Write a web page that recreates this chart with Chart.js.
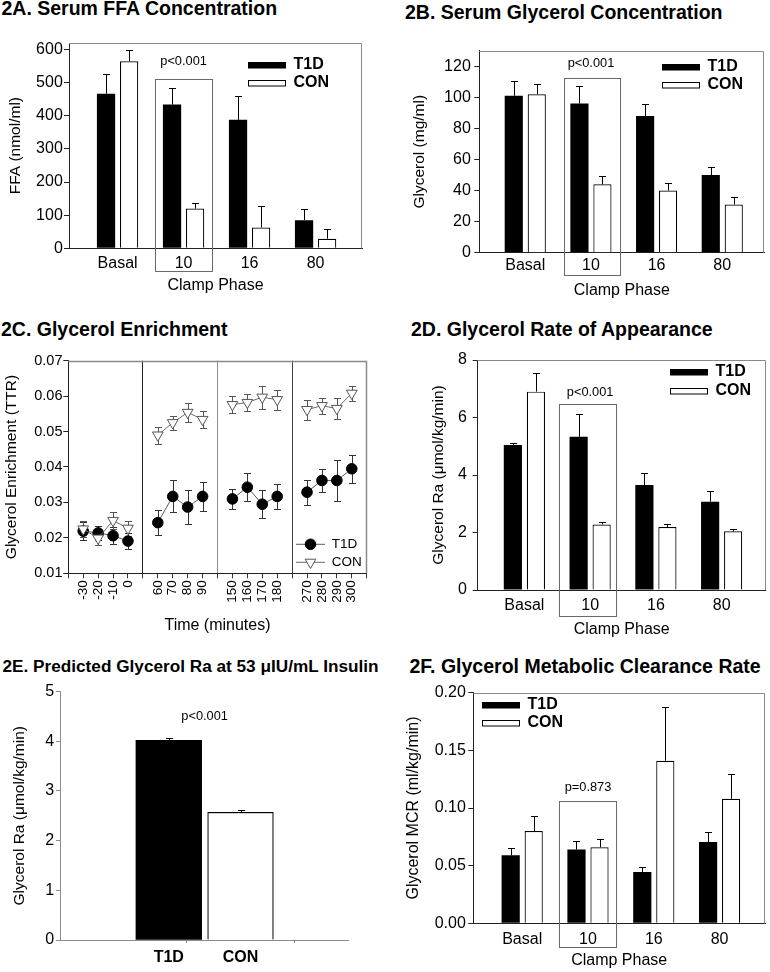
<!DOCTYPE html>
<html>
<head>
<meta charset="utf-8">
<script src="https://cdn.jsdelivr.net/npm/chart.js@4.4.0/dist/chart.umd.min.js"></script>
<style>
body { margin: 0; background: #fff; width: 770px; height: 972px; position: relative; overflow: hidden;
       font-family: "Liberation Sans", Arial, Helvetica, sans-serif; }
.panel { position: absolute; }
.ttl { position: absolute; font-weight: bold; font-size: 19.5px; line-height: 1; white-space: nowrap; color: #000; }
</style>
</head>
<body>
<div class="ttl" style="left:1.5px;top:-1.5px">2A. Serum FFA Concentration</div>
<div class="ttl" style="left:405px;top:2.5px">2B. Serum Glycerol Concentration</div>
<div class="ttl" style="left:1px;top:319.5px">2C. Glycerol Enrichment</div>
<div class="ttl" style="left:411px;top:320px">2D. Glycerol Rate of Appearance</div>
<div class="ttl" style="left:2.5px;top:658px;font-size:17.2px">2E. Predicted Glycerol Ra at 53 μIU/mL Insulin</div>
<div class="ttl" style="left:409.5px;top:657px">2F. Glycerol Metabolic Clearance Rate</div>

<div class="panel" id="pA"><canvas></canvas></div>
<div class="panel" id="pB"><canvas></canvas></div>
<div class="panel" id="pC"><canvas></canvas></div>
<div class="panel" id="pD"><canvas></canvas></div>
<div class="panel" id="pE"><canvas></canvas></div>
<div class="panel" id="pF"><canvas></canvas></div>

<script>
// ---- data ----
const phases = ["Basal", "10", "16", "80"];

const ffaT1D = [467, 434, 388, 85];
const ffaT1DErr = [60, 51, 72, 35];
const ffaCON = [565, 120, 63, 29];
const ffaCONErr = [35, 17, 65, 28];

const glyT1D = [101, 96, 88, 50];
const glyT1DErr = [9.5, 11, 7.6, 5.2];
const glyCON = [102, 44, 40, 31];
const glyCONErr = [6.5, 5.2, 5, 5];

const timeGroups = [[-30, -20, -10, 0], [60, 70, 80, 90], [150, 160, 170, 180], [270, 280, 290, 300]];
const enrT1D = [0.0219, 0.0214, 0.0206, 0.0191, 0.0243, 0.0317, 0.0287, 0.0317,
                0.0310, 0.0343, 0.0295, 0.0317, 0.0329, 0.0362, 0.0362, 0.0395];
const enrT1DErr = [0.0025, 0.0020, 0.0024, 0.0023, 0.0036, 0.0045, 0.0048, 0.0042,
                   0.0028, 0.0039, 0.0039, 0.0035, 0.0035, 0.0033, 0.0058, 0.0039];
const enrCON = [0.0225, 0.0199, 0.0249, 0.0227, 0.0490, 0.0525, 0.0554, 0.0534,
                0.0576, 0.0582, 0.0597, 0.0590, 0.0562, 0.0573, 0.0565, 0.0608];
const enrCONErr = [0.0022, 0.0020, 0.0023, 0.0022, 0.0024, 0.0020, 0.0026, 0.0024,
                   0.0024, 0.0025, 0.0033, 0.0028, 0.0028, 0.0023, 0.0030, 0.0022];

const raT1D = [5.04, 5.33, 3.65, 3.07];
const raT1DErr = [0.06, 0.78, 0.41, 0.39];
const raCON = [6.90, 2.28, 2.19, 2.04];
const raCONErr = [0.66, 0.09, 0.12, 0.09];

const groups = ["T1D", "CON"];
const predRa = [4.02, 2.57];
const predRaErr = [0.04, 0.05];

const mcrT1D = [0.059, 0.064, 0.0445, 0.0705];
const mcrT1DErr = [0.0066, 0.0078, 0.0046, 0.0084];
const mcrCON = [0.080, 0.066, 0.141, 0.108];
const mcrCONErr = [0.013, 0.0075, 0.0465, 0.0214];

// ---- drawing helpers ----
const FONT = '"Liberation Sans", Arial, Helvetica, sans-serif';
Chart.defaults.font.family = FONT;
Chart.defaults.color = '#000';
Chart.defaults.animation = false;
Chart.defaults.plugins.legend.display = false;
Chart.defaults.plugins.tooltip.enabled = false;

function drawErrors(chart, o) {
  const ctx = chart.ctx, ys = chart.scales.y, cap = o.cap || 3.5;
  chart.data.datasets.forEach((ds, i) => {
    if (!ds.errors) return;
    const meta = chart.getDatasetMeta(i);
    ctx.save();
    ctx.strokeStyle = ds.errorColor || '#000';
    ctx.lineWidth = 1;
    meta.data.forEach((el, j) => {
      const raw = ds.data[j];
      const v = raw == null ? null : (typeof raw === 'object' ? raw.y : raw);
      const e = ds.errors[j];
      if (v == null || e == null) return;
      const x = Math.round(el.x) + 0.5;
      const yTop = Math.round(ys.getPixelForValue(v + e)) + 0.5;
      const yBot = o.twoSided ? Math.round(ys.getPixelForValue(v - e)) + 0.5 : el.y;
      ctx.beginPath();
      ctx.moveTo(x, yBot); ctx.lineTo(x, yTop);
      ctx.moveTo(x - cap, yTop); ctx.lineTo(x + cap, yTop);
      if (o.twoSided) { ctx.moveTo(x - cap, yBot); ctx.lineTo(x + cap, yBot); }
      ctx.stroke();
    });
    ctx.restore();
  });
}

const decor = {
  id: 'decor',
  beforeDatasetsDraw(chart, args, o) {
    if (o.errUnder) drawErrors(chart, o);
  },
  afterDatasetsDraw(chart, args, o) {
    const ctx = chart.ctx, a = chart.chartArea, xs = chart.scales.x, ys = chart.scales.y;
    if (!o.errUnder) drawErrors(chart, o);
    ctx.save();
    if (o.frame) {
      ctx.strokeStyle = o.frame;
      ctx.lineWidth = o.frameWidth || 1;
      ctx.beginPath();
      ctx.moveTo(a.left, Math.round(a.top) + 0.5);
      ctx.lineTo(Math.round(a.right) - 0.5, Math.round(a.top) + 0.5);
      ctx.lineTo(Math.round(a.right) - 0.5, a.bottom);
      ctx.stroke();
    }
    if (o.box) {
      const x0 = Math.round(xs.getPixelForValue(o.box.from)) + 0.5;
      const x1 = Math.round(xs.getPixelForValue(o.box.to)) + 0.5;
      const y0 = Math.round(ys.getPixelForValue(o.box.top)) + 0.5;
      const y1 = Math.round(a.bottom + o.box.below) + 0.5;
      ctx.strokeStyle = '#6a6a6a';
      ctx.lineWidth = 1;
      ctx.strokeRect(x0, y0, x1 - x0, y1 - y0);
    }
    if (o.note) {
      ctx.fillStyle = '#000';
      ctx.font = '12.8px ' + FONT;
      ctx.textAlign = 'center';
      ctx.textBaseline = 'middle';
      ctx.fillText(o.note.text, xs.getPixelForValue(o.note.x), ys.getPixelForValue(o.note.y));
    }
    if (o.legend) {
      const L = o.legend;
      chart.data.datasets.forEach((ds, i) => {
        const x = Math.round(a.left + L.dx) + 0.5, y = Math.round(a.top + L.dy + i * 18.4) + 0.5;
        ctx.fillStyle = ds.backgroundColor;
        ctx.fillRect(x, y, 37, 5.5);
        ctx.strokeStyle = '#000';
        ctx.lineWidth = 1;
        ctx.strokeRect(x, y, 37, 5.5);
        ctx.fillStyle = '#000';
        ctx.font = 'bold 16px ' + FONT;
        ctx.textAlign = 'left';
        ctx.textBaseline = 'middle';
        ctx.fillText(ds.label, x + 45, y + 2);
      });
    }
    if (o.lineLegend) {
      const L = o.lineLegend;
      chart.data.datasets.forEach((ds, i) => {
        const y = a.bottom + L.ys[i];
        ctx.strokeStyle = ds.borderColor;
        ctx.lineWidth = 1;
        ctx.beginPath();
        ctx.moveTo(a.right + L.x0, y); ctx.lineTo(a.right + L.x1, y);
        ctx.stroke();
        ctx.fillStyle = ds.pointBackgroundColor;
        ctx.strokeStyle = ds.pointBorderColor;
        Chart.helpers.drawPoint(ctx, { pointStyle: ds.pointStyle, radius: ds.pointRadius,
          rotation: ds.pointRotation || 0, borderWidth: ds.pointBorderWidth || 1 },
          a.right + (L.x0 + L.x1) / 2, y);
        ctx.fillStyle = '#000';
        ctx.font = '13.5px ' + FONT;
        ctx.textAlign = 'left';
        ctx.textBaseline = 'middle';
        ctx.fillText(ds.label, a.right + L.tx, y);
      });
    }
    ctx.restore();
  }
};
Chart.register(decor);

function yAxis(p, yw) {
  return {
    type: 'linear', min: p.min, max: p.max,
    ticks: { stepSize: p.step, includeBounds: false, padding: p.tickPad, font: { size: p.tickSize || 16 },
             color: '#000', callback: p.fmt || (v => v) },
    grid: { drawOnChartArea: false, tickLength: p.tickLen || 5, tickColor: p.axisColor || '#222', tickWidth: 1 },
    border: { color: p.axisColor || '#222', width: 1 },
    title: { display: true, text: p.title, font: { size: p.titleSize || 15.5 }, padding: 0 },
    afterFit(s) { s.width = yw; }
  };
}

function mount(id, cell, plot, yTitleX, yTitleSize, xh, build) {
  const el = document.getElementById(id);
  Object.assign(el.style, { left: cell.x + 'px', top: cell.y + 'px', width: cell.w + 'px', height: cell.h + 'px' });
  const yw = plot.l - yTitleX + yTitleSize * 0.6;
  const padding = { left: plot.l - cell.x - yw, top: plot.t - cell.y,
                    right: cell.x + cell.w - plot.r, bottom: cell.y + cell.h - plot.b - xh };
  const cfg = build(yw, xh);
  cfg.options.layout = { padding };
  cfg.options.responsive = true;
  cfg.options.maintainAspectRatio = false;
  return new Chart(el.querySelector('canvas'), cfg);
}

function barPanel(id, L, d) {
  const xh = L.xTitleY - L.plot.b + 9.6;
  const ts = d.y.titleSize || 15.5;
  mount(id, L.cell, L.plot, L.yTitleX, ts, xh, yw => ({
    type: 'bar',
    data: { datasets: [
      { label: 'T1D', data: d.t1d.map((v, i) => ({ x: i, y: v })), errors: d.t1dErr,
        backgroundColor: '#000', borderColor: '#000', borderWidth: 0,
        categoryPercentage: 0.70, barPercentage: 0.79 },
      { label: 'CON', data: d.con.map((v, i) => ({ x: i, y: v })), errors: d.conErr,
        backgroundColor: '#fff', borderColor: '#000', borderWidth: 1.2,
        categoryPercentage: 0.70, barPercentage: 0.79 }
    ] },
    options: {
      scales: {
        x: { type: 'linear', min: L.xMin, max: L.xMax, offset: false,
             afterBuildTicks(s) { s.ticks = phases.map((_, i) => ({ value: i })); },
             ticks: { callback: v => phases[v], padding: L.xTickPad, font: { size: 16 }, color: '#000',
                      autoSkip: false, maxRotation: 0 },
             grid: { display: false, drawTicks: false },
             border: { color: '#222', width: 1 },
             title: { display: true, text: 'Clamp Phase', font: { size: 16 }, padding: 0 },
             afterFit(s) { s.height = xh; } },
        y: yAxis(d.y, yw)
      },
      plugins: { decor: { frame: '#8a8a8a', cap: 3.5, box: L.box, note: L.note, legend: L.legend } }
    }
  }));
}

// ---- 2A ----
barPanel('pA', {
  cell: { x: 0, y: 22, w: 385, h: 290 }, plot: { l: 69, t: 43, r: 362, b: 248.3 },
  yTitleX: 16, xTitleY: 286, xMin: -0.736, xMax: 3.703, xTickPad: 5.6,
  box: { from: 0.57, to: 1.43, top: 510, below: 23 },
  note: { text: 'p<0.001', x: 1, y: 565 },
  legend: { dx: 179.3, dy: 18.7 }
}, { t1d: ffaT1D, t1dErr: ffaT1DErr, con: ffaCON, conErr: ffaCONErr,
     y: { min: 0, max: 620, step: 100, tickPad: 1.2, title: 'FFA (nmol/ml)' } });

// ---- 2B ----
barPanel('pB', {
  cell: { x: 385, y: 22, w: 385, h: 290 }, plot: { l: 479.3, t: 50.7, r: 764.3, b: 252.7 },
  yTitleX: 420, xTitleY: 290.5, xMin: -0.70, xMax: 3.64, xTickPad: 3.7,
  box: { from: 0.59, to: 1.44, top: 112.3, below: 22.7 },
  note: { text: 'p<0.001', x: 1, y: 121.5 },
  legend: { dx: 182.4, dy: 13.3 }
}, { t1d: glyT1D, t1dErr: glyT1DErr, con: glyCON, conErr: glyCONErr,
     y: { min: 0, max: 130, step: 20, tickPad: 3.5, title: 'Glycerol (mg/ml)' } });

// ---- 2D ----
barPanel('pD', {
  cell: { x: 385, y: 342, w: 385, h: 298 }, plot: { l: 477.7, t: 360, r: 765.7, b: 590 },
  yTitleX: 438.3, xTitleY: 629.5, xMin: -0.71, xMax: 3.67, xTickPad: 6.4,
  box: { from: 0.53, to: 1.39, top: 6.46, below: 26 },
  note: { text: 'p<0.001', x: 1, y: 6.86 },
  legend: { dx: 192.3, dy: 9.3 }
}, { t1d: raT1D, t1dErr: raT1DErr, con: raCON, conErr: raCONErr,
     y: { min: 0, max: 8, step: 2, tickPad: 5.9, title: 'Glycerol Ra (μmol/kg/min)' } });

// ---- 2F ----
barPanel('pF', {
  cell: { x: 385, y: 680, w: 385, h: 292 }, plot: { l: 473.3, t: 692.7, r: 765, b: 923.3 },
  yTitleX: 413.3, xTitleY: 961, xMin: -0.743, xMax: 3.69, xTickPad: 7.1,
  box: { from: 0.56, to: 1.43, top: 0.1061, below: 24 },
  note: { text: 'p=0.873', x: 1, y: 0.118 },
  legend: { dx: 9, dy: 9 }
}, { t1d: mcrT1D, t1dErr: mcrT1DErr, con: mcrCON, conErr: mcrCONErr,
     y: { min: 0, max: 0.2, step: 0.05, tickPad: 2.5, title: 'Glycerol MCR (ml/kg/min)', titleSize: 16,
          fmt: v => v.toFixed(2) } });

// ---- 2C ----
const enrLabels = [''];
timeGroups.forEach(g => enrLabels.push(...g.map(String), ''));
function spread(vals) {
  const out = [null];
  let k = 0;
  timeGroups.forEach(g => { g.forEach(() => out.push(vals[k++])); out.push(null); });
  return out;
}
const sepColors = ['#222', '#8c8c8c', '#444'];
function sepColor(c) {
  const i = c.index;
  if (i == null || i <= 0 || i >= enrLabels.length - 1 || enrLabels[i] !== '') return 'rgba(0,0,0,0)';
  const n = enrLabels.slice(1, i).filter(l => l === '').length;
  return sepColors[n];
}
(function () {
  const plot = { l: 68.3, t: 360.7, r: 366.7, b: 573.3 };
  const xh = 626 - plot.b + 9.6;
  mount('pC', { x: 0, y: 342, w: 385, h: 298 }, plot, 11.7, 15.5, xh, yw => ({
    type: 'line',
    data: {
      labels: enrLabels,
      datasets: [
        { label: 'T1D', data: spread(enrT1D), errors: spread(enrT1DErr), errorColor: '#333',
          borderColor: '#5a5a5a', borderWidth: 1, pointStyle: 'circle', pointRadius: 5.3,
          pointBackgroundColor: '#000', pointBorderColor: '#000', pointBorderWidth: 1, order: 1 },
        { label: 'CON', data: spread(enrCON), errors: spread(enrCONErr), errorColor: '#555',
          borderColor: '#6a6a6a', borderWidth: 1, pointStyle: 'triangle', pointRotation: 180, pointRadius: 6.2,
          pointBackgroundColor: '#fff', pointBorderColor: '#555', pointBorderWidth: 1, order: 0 }
      ]
    },
    options: {
      scales: {
        x: { type: 'category', offset: false,
             ticks: { autoSkip: false, minRotation: 90, maxRotation: 90, padding: 2, font: { size: 13.5 }, color: '#000' },
             grid: { color: sepColor, lineWidth: 1, tickColor: '#333', tickLength: 5, tickWidth: 1 },
             border: { color: '#222', width: 1 },
             title: { display: true, text: 'Time (minutes)', font: { size: 16 }, padding: 0 },
             afterFit(s) { s.height = xh; } },
        y: yAxis({ min: 0.01, max: 0.07, step: 0.01, tickPad: 0.8, tickSize: 14.5,
                   title: 'Glycerol Enrichment (TTR)', fmt: v => v.toFixed(2) }, yw)
      },
      plugins: { decor: { frame: '#8a8a8a', frameWidth: 1.5, errUnder: true, twoSided: true, cap: 3.5,
                          lineLegend: { x0: -70.7, x1: -41.7, tx: -35, ys: [-29, -11] } } }
    }
  }));
})();

// ---- 2E ----
function isGroupTick(v) { return Number.isInteger(v) && v >= 0 && v < groups.length; }
(function () {
  const plot = { l: 60, t: 690.7, r: 348.3, b: 940 };
  const xh = 32;
  mount('pE', { x: 0, y: 680, w: 385, h: 292 }, plot, 19.3, 15.5, xh, yw => ({
    type: 'bar',
    data: { datasets: [
      { label: 'Predicted Ra', data: groups.map((g, i) => ({ x: i, y: predRa[i] })), errors: predRaErr,
        backgroundColor: ['#000', '#fff'], borderColor: '#000', borderWidth: [0, 1.2],
        barThickness: 65.7 }
    ] },
    options: {
      scales: {
        x: { type: 'linear', min: -1.517, max: 2.503, offset: false,
             afterBuildTicks(s) { s.ticks = [-1.5, 0, 0.5, 1, 2.5].map(v => ({ value: v })); },
             ticks: { callback: v => (isGroupTick(v) ? groups[v] : ''), padding: 4.9,
                      font: { size: 16, weight: 'bold' }, color: '#000', autoSkip: false, maxRotation: 0 },
             grid: { drawOnChartArea: false, tickLength: 3, tickWidth: 1,
                     tickColor: c => (c.tick && isGroupTick(c.tick.value) ? 'rgba(0,0,0,0)' : '#8c8c8c') },
             border: { color: '#8c8c8c', width: 1 },
             afterFit(s) { s.height = xh; } },
        y: yAxis({ min: 0, max: 5, step: 1, tickPad: 1.9, tickLen: 4, axisColor: '#8c8c8c',
                   title: 'Glycerol Ra (μmol/kg/min)' }, yw)
      },
      plugins: { decor: { cap: 3.5, note: { text: 'p<0.001', x: 0.5, y: 4.49 } } }
    }
  }));
})();
</script>
</body>
</html>
